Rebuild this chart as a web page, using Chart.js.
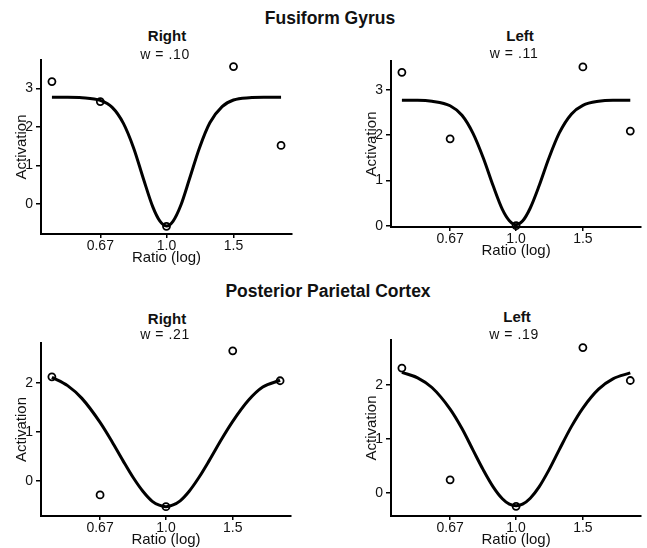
<!DOCTYPE html>
<html>
<head>
<meta charset="utf-8">
<script src="https://cdn.jsdelivr.net/npm/chart.js@4.4.1/dist/chart.umd.min.js"></script>
<style>
  body { margin: 0; background: #fff; }
  #page { position: relative; width: 647px; height: 548px; overflow: hidden; background: #fff;
          font-family: "Liberation Sans", Arial, Helvetica, sans-serif; color: #111; }
  canvas { position: absolute; }
  .heading { position: absolute; font-weight: bold; font-size: 17.5px; line-height: 1; text-align: center; white-space: nowrap; }
  .side { position: absolute; width: 120px; font-weight: bold; font-size: 15px; line-height: 1; text-align: center; }
  .wval { position: absolute; width: 120px; font-size: 14px; line-height: 1; text-align: center; letter-spacing: 0.6px; white-space: nowrap; }
</style>
</head>
<body>
<div id="page">
  <canvas id="fg-right" width="310" height="221" style="left:0px; top:46px;"></canvas>
  <canvas id="fg-left" width="297" height="213" style="left:350px; top:47px;"></canvas>
  <canvas id="ppc-right" width="309" height="220" style="left:0px; top:329px;"></canvas>
  <canvas id="ppc-left" width="297" height="223" style="left:350px; top:326px;"></canvas>

  <div class="heading" style="left:230px; width:200px; top:10px;">Fusiform Gyrus</div>
  <div class="heading" style="left:178px; width:300px; top:283px;">Posterior Parietal Cortex</div>

  <div class="side" style="left:107px; top:28px;">Right</div>
  <div class="wval" style="left:105px; top:47px;">w = .10</div>
  <div class="side" style="left:460px; top:28px;">Left</div>
  <div class="wval" style="left:454px; top:46px;">w = .11</div>
  <div class="side" style="left:107px; top:311px;">Right</div>
  <div class="wval" style="left:105px; top:327px;">w = .21</div>
  <div class="side" style="left:457px; top:309px;">Left</div>
  <div class="wval" style="left:454px; top:327px;">w = .19</div>
</div>

<script>
// measured activations at each ratio
const pointRatios = [0.5, 0.67, 1.0, 1.5, 2.0];
const fusiformRightPoints = [3.18, 2.66, -0.58, 3.57, 1.52];
const fusiformLeftPoints = [3.39, 1.92, 0.0, 3.51, 2.09];
const parietalRightPoints = [2.13, -0.28, -0.52, 2.66, 2.05];
const parietalLeftPoints = [2.31, 0.24, -0.25, 2.69, 2.08];

// fitted tuning curves
const curveRatios = [0.5, 0.55, 0.6, 0.67, 0.72, 0.77, 0.82, 0.87, 0.92, 0.96, 1.0,
                     1.04, 1.09, 1.15, 1.22, 1.3, 1.4, 1.5, 1.65, 1.8, 2.0];
const fusiformRightCurve = [2.77, 2.77, 2.76, 2.69, 2.51, 2.10, 1.45, 0.65, -0.07, -0.44, -0.57,
                            -0.45, -0.04, 0.66, 1.45, 2.11, 2.53, 2.70, 2.76, 2.77, 2.77];
const fusiformLeftCurve = [2.77, 2.77, 2.75, 2.65, 2.44, 2.04, 1.49, 0.88, 0.36, 0.11, 0.02,
                           0.10, 0.39, 0.88, 1.49, 2.05, 2.47, 2.66, 2.75, 2.77, 2.77];
const parietalRightCurve = [2.12, 1.95, 1.69, 1.20, 0.81, 0.42, 0.07, -0.21, -0.41, -0.49, -0.52,
                            -0.49, -0.40, -0.21, 0.07, 0.42, 0.85, 1.22, 1.65, 1.92, 2.06];
const parietalLeftCurve = [2.23, 2.13, 1.95, 1.55, 1.19, 0.79, 0.42, 0.11, -0.11, -0.21, -0.24,
                           -0.21, -0.10, 0.11, 0.42, 0.80, 1.23, 1.57, 1.92, 2.11, 2.22];

const xTickValues = [0.67, 1.0, 1.5];
const xTickLabels = ["0.67", "1.0", "1.5"];
const fusiformYTicks = [0, 1, 2, 3];
const parietalYTicks = [0, 1, 2];

Chart.defaults.font.family = '"Liberation Sans", Arial, Helvetica, sans-serif';
Chart.defaults.color = "#111";

function toXY(xs, ys) {
  return xs.map((x, i) => ({ x: x, y: ys[i] }));
}

function buildPanel(id, points, curve, yMin, yMax, yTicks, padRight) {
  const canvas = document.getElementById(id);

  return new Chart(canvas, {
    type: "scatter",
    data: {
      datasets: [
        {
          data: toXY(curveRatios, curve),
          showLine: true,
          borderColor: "#000",
          borderWidth: 3,
          pointRadius: 0,
          cubicInterpolationMode: "monotone",
          clip: false,
          order: 2
        },
        {
          data: toXY(pointRatios, points),
          showLine: false,
          pointRadius: 3.5,
          pointBorderWidth: 1.8,
          pointBorderColor: "#000",
          pointBackgroundColor: "rgba(0,0,0,0)",
          clip: false,
          order: 1
        }
      ]
    },
    options: {
      responsive: false,
      animation: false,
      events: [],
      layout: { padding: { top: 14, right: padRight, left: 0, bottom: 0 } },
      plugins: { legend: { display: false }, tooltip: { enabled: false } },
      scales: {
        x: {
          type: "logarithmic",
          min: 0.468,
          max: 2.137,
          afterBuildTicks: s => { s.ticks = xTickValues.map(v => ({ value: v })); },
          afterFit: s => { s.height = 33; },
          ticks: {
            autoSkip: false,
            maxRotation: 0,
            padding: 1,
            font: { size: 14, lineHeight: 1 },
            callback: (v, i) => xTickLabels[i]
          },
          grid: { drawOnChartArea: false, drawTicks: true, tickLength: 4, color: "#000", lineWidth: 1.5 },
          border: { display: true, color: "#000", width: 2 },
          title: { display: true, text: "Ratio (log)", font: { size: 15 }, padding: { top: 0, bottom: 0 } }
        },
        y: {
          min: yMin,
          max: yMax,
          afterBuildTicks: s => { s.ticks = yTicks.map(v => ({ value: v })); },
          afterFit: s => { s.width = 41; },
          ticks: { padding: 3, font: { size: 14 } },
          grid: { drawOnChartArea: false, drawTicks: true, tickLength: 5, color: "#000", lineWidth: 1.5 },
          border: { display: true, color: "#000", width: 2 },
          title: { display: true, text: "Activation", font: { size: 15 }, padding: { top: 13, bottom: 0 } }
        }
      }
    }
  });
}

buildPanel("fg-right", fusiformRightPoints, fusiformRightCurve, -0.78, 3.74, fusiformYTicks, 18);
buildPanel("fg-left", fusiformLeftPoints, fusiformLeftCurve, -0.03, 3.64, fusiformYTicks, 5);
buildPanel("ppc-right", parietalRightPoints, parietalRightCurve, -0.71, 2.82, parietalYTicks, 18);
buildPanel("ppc-left", parietalLeftPoints, parietalLeftCurve, -0.43, 2.83, parietalYTicks, 5);
</script>
</body>
</html>
